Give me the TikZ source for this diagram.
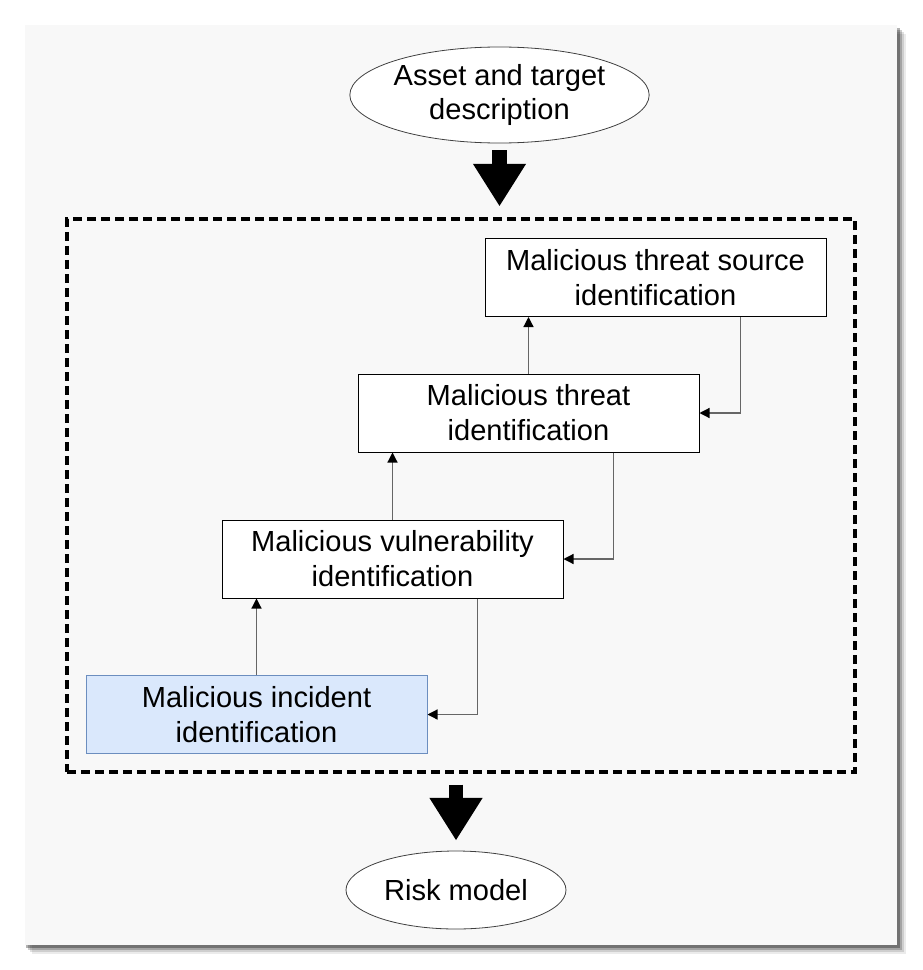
\documentclass[tikz,border=0pt]{standalone}
\usepackage{fontspec}
\setmainfont{Liberation Sans}
\usetikzlibrary{arrows.meta,positioning,shapes.geometric,calc}
\definecolor{panelgray}{HTML}{F8F8F8}
\definecolor{incfill}{HTML}{DAE8FC}
\definecolor{incdraw}{HTML}{6C8EBF}

\begin{document}
\begin{tikzpicture}[
  x=0.75pt, y=-0.75pt,
  font=\fontsize{21.8}{26.2}\selectfont,
  stepbox/.style={draw, line width=0.75pt, fill=white, align=center, inner sep=0pt, minimum width=255.75pt, minimum height=58.5pt},
  oval/.style={ellipse, draw=black!75, line width=0.6pt, fill=white, align=center, inner sep=0pt},
  frame/.style={draw, dash pattern=on 6.5pt off 4pt, line width=2.3pt, inner sep=0pt, minimum width=591pt, minimum height=414.75pt},
  link/.style={-{Triangle[length=7.5pt,width=7.5pt,color=black]}, line width=0.9pt, draw=black!60},
  bigarrow/.style={-{Triangle[length=32pt,width=37.5pt]}, line width=11pt}
]
\useasboundingbox (0,0) rectangle (922,970);
\fill[white] (0,0) rectangle (922,970);

% panel with shadow
\foreach \d/\o in {9/0.08,7/0.12,5/0.2,3/0.3}
  \fill[black, opacity=\o] (25+\d-2,25+\d) rectangle (897+\d,945+\d);
\fill[panelgray] (25,25) rectangle (897,945);

\node[oval, minimum width=219.75pt, minimum height=72pt] (asset) at (499.5,95)
  {Asset and target\\description};

\node[frame] (group) at (461,495.5) {};

\node[stepbox] (src) at (655.5,277.5) {Malicious threat source\\identification};
\node[stepbox] (thr) at (528.5,413) {Malicious threat\\identification};
\node[stepbox] (vul) at (392.5,559) {Malicious vulnerability\\identification};
\node[stepbox, fill=incfill, draw=incdraw] (inc) at (256.5,714.5) {Malicious incident\\identification};

\node[oval, minimum width=165pt, minimum height=58.5pt] (risk) at (456,890) {Risk model};

\draw[bigarrow, shorten <=5.25pt, shorten >=8.25pt] (asset.south) -- (asset.south |- group.north);
\draw[bigarrow, shorten <=8.25pt, shorten >=7.5pt] (risk.north |- group.south) -- (risk.north);

% upward steps
\draw[link] (inc.north) -- (inc.north |- vul.south);
\draw[link] (vul.north) -- (vul.north |- thr.south);
\draw[link] (thr.north) -- (thr.north |- src.south);

% feedback
\draw[link] ($(src.south)+(85,0)$) |- (thr.east);
\draw[link] ($(thr.south)+(85,0)$) |- (vul.east);
\draw[link] ($(vul.south)+(85,0)$) |- (inc.east);

\end{tikzpicture}
\end{document}
